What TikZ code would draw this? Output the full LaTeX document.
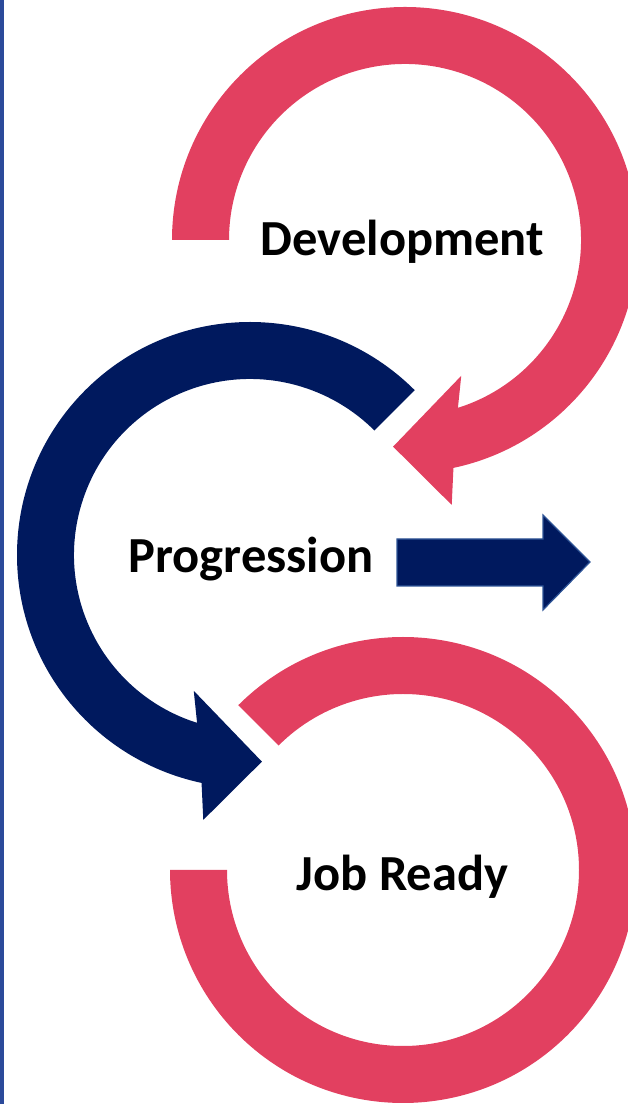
\documentclass[tikz,border=0pt]{standalone}
\usepackage{fontspec}
\setmainfont{Carlito}
\usetikzlibrary{calc}
\definecolor{pinkc}{HTML}{E24060}
\definecolor{navyc}{HTML}{00195E}
\definecolor{edgec}{HTML}{2F5597}
\definecolor{borderc}{HTML}{2B4A9A}
\tikzset{
  pinkband/.style={fill=pinkc, draw=none},
  navyband/.style={fill=navyc, draw=none},
  label/.style={font=\bfseries\fontsize{50.5}{50.5}\selectfont, text=black, anchor=base, inner sep=0pt}
}
\begin{document}
\begin{tikzpicture}[x=1pt,y=1pt]
\useasboundingbox (0,0) rectangle (628,1104);
\begin{scope}
\clip (0,0) rectangle (628,1104);
\coordinate (c1) at (405,864);
\coordinate (c2) at (250,549);
\coordinate (c3) at (403,234);
% top pink circular arrow (clockwise, head pointing down-left)
\fill[pinkband] ($(c1)+(180:233)$) arc[start angle=180, end angle=-78, radius=233]
  -- ($(c1)+(-80:269)$) -- ($(c1)+(-93.3:207)$) -- ($(c1)+(-67.5:147)$)
  -- ($(c1)+(-72.5:176)$) arc[start angle=-72.5, end angle=180, radius=176] -- cycle;
% navy circular arrow (counterclockwise, head pointing down-right)
\fill[navyband] ($(c2)+(45:233)$) arc[start angle=45, end angle=258, radius=233]
  -- ($(c2)+(260:269)$) -- ($(c2)+(273.3:207)$) -- ($(c2)+(247.5:147)$)
  -- ($(c2)+(252.5:176)$) arc[start angle=252.5, end angle=45, radius=176] -- cycle;
% bottom pink ring
\fill[pinkband] ($(c3)+(135:233)$) arc[start angle=135, end angle=-180, radius=233]
  -- ($(c3)+(-180:176)$) arc[start angle=-180, end angle=135, radius=176] -- cycle;
% right block arrow
\filldraw[fill=navyc, draw=edgec, line width=1.2pt]
  (397,565) -- (543,565) -- (543,589) -- (590,542) -- (543,494) -- (543,518) -- (397,518) -- cycle;
\end{scope}
% left border line
\fill[borderc] (0,0) rectangle (3.5,1104);
% labels
\node[label] (dev) at (402.5,848) {Development};
\node[label] (prog) at (251,531) {Progression};
\node[label] (job) at (402.5,213) {Job Ready};
\end{tikzpicture}
\end{document}
